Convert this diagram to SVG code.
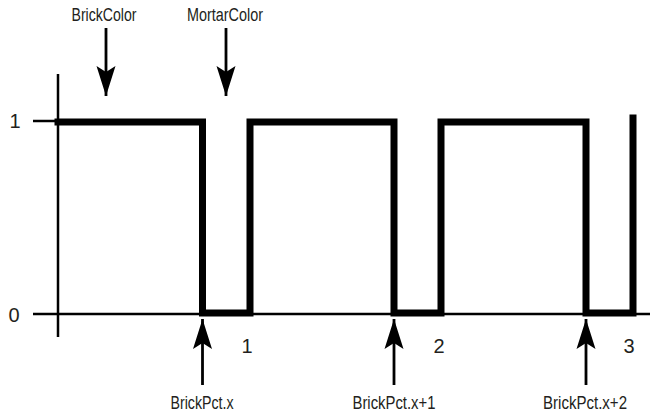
<svg xmlns="http://www.w3.org/2000/svg" width="650" height="414" viewBox="0 0 650 414">
<style>
  .lbl { font-family: "Liberation Sans", Arial, sans-serif; font-size: 18px; fill: #231f20; text-anchor: middle; }
  .num { font-family: "Liberation Sans", Arial, sans-serif; font-size: 20px; fill: #231f20; text-anchor: middle; }
  .axis { stroke: #000; stroke-width: 2.5; fill: none; }
  .wave { stroke: #000; stroke-width: 7; fill: none; stroke-linejoin: miter; stroke-linecap: square; }
  .arrow { stroke: #000; stroke-width: 2.8; fill: none; }
</style>
<defs>
  <marker id="ah" markerUnits="userSpaceOnUse" markerWidth="32" markerHeight="22" viewBox="-31 -11 32 22" refX="0" refY="0" orient="auto">
    <path d="M0,0 L-30,-9.5 L-24,0 L-30,9.5 Z" fill="#000"/>
  </marker>
</defs>
<rect width="650" height="414" fill="#fff"/>
<g id="axes">
  <line class="axis" x1="58" y1="74" x2="58" y2="337"/>
  <line class="axis" x1="33" y1="314" x2="650" y2="314"/>
  <line class="axis" x1="33" y1="121" x2="58" y2="121"/>
</g>
<g id="wave">
  <path class="wave" d="M58,122 H202.5 V313 H250 V122 H394 V313 H441 V122 H586 V313 H633 V118"/>
</g>
<g id="connectors">
  <line class="arrow" x1="106" y1="28" x2="106" y2="96" marker-end="url(#ah)"/>
  <line class="arrow" x1="226" y1="28" x2="226" y2="96" marker-end="url(#ah)"/>
  <line class="arrow" x1="202.5" y1="385" x2="202.5" y2="319" marker-end="url(#ah)"/>
  <line class="arrow" x1="394" y1="385" x2="394" y2="319" marker-end="url(#ah)"/>
  <line class="arrow" x1="586" y1="385" x2="586" y2="319" marker-end="url(#ah)"/>
</g>
<g id="labels">
  <text class="lbl" x="104" y="21" textLength="65" lengthAdjust="spacingAndGlyphs">BrickColor</text>
  <text class="lbl" x="225" y="21" textLength="76" lengthAdjust="spacingAndGlyphs">MortarColor</text>
  <text class="lbl" x="202" y="409" textLength="63" lengthAdjust="spacingAndGlyphs">BrickPct.x</text>
  <text class="lbl" x="394" y="409" textLength="83" lengthAdjust="spacingAndGlyphs">BrickPct.x+1</text>
  <text class="lbl" x="585" y="409" textLength="84" lengthAdjust="spacingAndGlyphs">BrickPct.x+2</text>
  <text class="num" x="15" y="128">1</text>
  <text class="num" x="14" y="322">0</text>
  <text class="num" x="247" y="353">1</text>
  <text class="num" x="439" y="353">2</text>
  <text class="num" x="629" y="353">3</text>
</g>
</svg>
